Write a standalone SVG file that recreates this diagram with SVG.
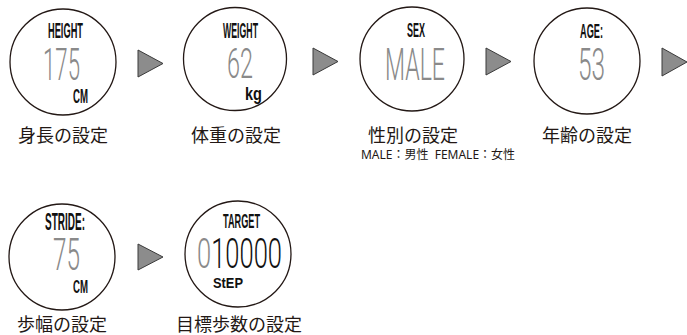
<svg xmlns="http://www.w3.org/2000/svg" width="687" height="335" viewBox="0 0 687 335">
<style>
.dial{fill:#fff;stroke:#231815;stroke-width:1.3}
.tri{fill:#8c8c8c;stroke:#3a3a3a;stroke-width:1}
.lbl{font-family:"Liberation Sans",Arial,sans-serif;font-weight:bold;fill:#111;text-anchor:middle}
.dig{font-family:Roboto,"Liberation Sans",Arial,sans-serif;font-weight:300;fill:#8a8a8a;text-anchor:middle}
.jp{font-family:"Noto Sans CJK JP","Noto Sans",sans-serif;font-size:18px;fill:#231815;text-anchor:middle}
.sm{font-family:"Noto Sans","Noto Sans CJK JP",sans-serif;font-size:12px;fill:#231815;text-anchor:middle}
</style>
<rect width="687" height="335" fill="#fff"/>
<g id="height">
<circle class="dial" cx="63" cy="62" r="53"/>
<text class="lbl" x="65.5" y="38" font-size="22" textLength="35" lengthAdjust="spacingAndGlyphs">HEIGHT</text>
<text class="dig" x="61.5" y="80" font-size="45" textLength="37" lengthAdjust="spacingAndGlyphs">175</text>
<text class="lbl" x="80.5" y="103" font-size="20" textLength="15" lengthAdjust="spacingAndGlyphs">CM</text>
<text class="jp" x="63" y="142">身長の設定</text>
</g>
<g id="weight">
<circle class="dial" cx="235" cy="59" r="51.5"/>
<text class="lbl" x="240.5" y="38" font-size="22" textLength="35" lengthAdjust="spacingAndGlyphs">WEIGHT</text>
<text class="dig" x="240" y="78" font-size="43" textLength="26" lengthAdjust="spacingAndGlyphs">62</text>
<text class="lbl" x="253.5" y="100" font-size="18" textLength="17" lengthAdjust="spacingAndGlyphs">kg</text>
<text class="jp" x="236" y="142">体重の設定</text>
</g>
<g id="sex">
<circle class="dial" cx="412" cy="59" r="52"/>
<text class="lbl" x="416" y="37" font-size="21" textLength="18" lengthAdjust="spacingAndGlyphs">SEX</text>
<text class="dig" x="415" y="80" font-size="45" textLength="60" lengthAdjust="spacingAndGlyphs">MALE</text>
<text class="jp" x="413" y="142">性別の設定</text>
<text class="sm" x="438" y="159" xml:space="preserve">MALE：男性  FEMALE：女性</text>
</g>
<g id="age">
<circle class="dial" cx="587" cy="61" r="53"/>
<text class="lbl" x="591.5" y="38" font-size="21" textLength="23" lengthAdjust="spacingAndGlyphs">AGE:</text>
<text class="dig" x="591.5" y="80" font-size="45" textLength="27" lengthAdjust="spacingAndGlyphs">53</text>
<text class="jp" x="587" y="142">年齢の設定</text>
</g>
<g id="stride">
<circle class="dial" cx="62" cy="257" r="53"/>
<text class="lbl" x="65" y="230" font-size="23" textLength="40" lengthAdjust="spacingAndGlyphs">STRIDE:</text>
<text class="dig" x="66.5" y="270" font-size="44" textLength="27" lengthAdjust="spacingAndGlyphs">75</text>
<text class="lbl" x="80.5" y="293" font-size="18" textLength="15" lengthAdjust="spacingAndGlyphs">CM</text>
<text class="jp" x="62" y="331">歩幅の設定</text>
</g>
<g id="target">
<circle class="dial" cx="238" cy="254" r="53"/>
<text class="lbl" x="241.5" y="228" font-size="21" textLength="37" lengthAdjust="spacingAndGlyphs">TARGET</text>
<text class="dig" x="239.5" y="268" font-size="42" textLength="85" lengthAdjust="spacingAndGlyphs"><tspan fill="#8a8a8a">0</tspan><tspan fill="#111">10000</tspan></text>
<text class="lbl" x="228" y="288" font-size="15" textLength="30" lengthAdjust="spacingAndGlyphs">StEP</text>
<text class="jp" x="239" y="331">目標歩数の設定</text>
</g>
<g id="connectors">
<polygon class="tri" points="138,50 163,63.5 138,77"/>
<polygon class="tri" points="313,48 338,61.5 313,75"/>
<polygon class="tri" points="486,48 511,61.5 486,75"/>
<polygon class="tri" points="662,48 687,62 662,76"/>
<polygon class="tri" points="138,244 163,257 138,270"/>
</g>
</svg>
